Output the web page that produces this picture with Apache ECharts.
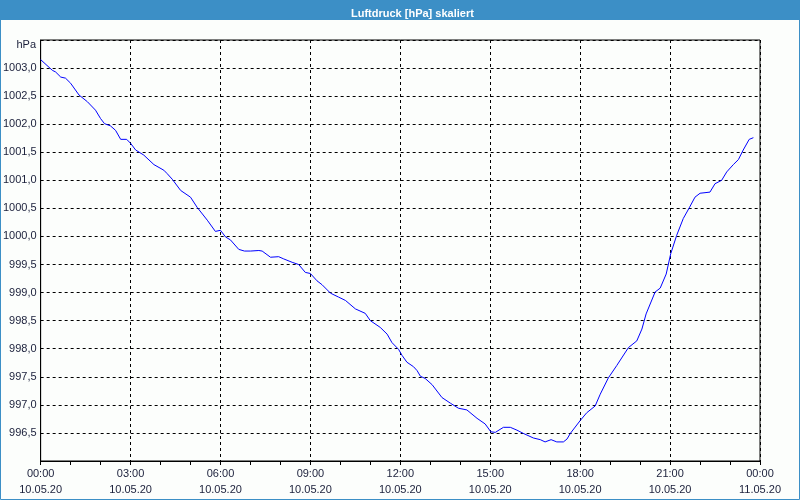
<!DOCTYPE html>
<html>
<head>
<meta charset="utf-8">
<script src="https://cdn.jsdelivr.net/npm/echarts@6/dist/echarts.min.js"></script>
<style>
html,body{margin:0;padding:0;background:#fcfefc;}
#c{width:800px;height:500px;}
</style>
</head>
<body>
<div id="c"></div>
<script>
const titleText = 'Luftdruck [hPa] skaliert';
const unitLabel = 'hPa';
const xTickTimes = ['00:00','03:00','06:00','09:00','12:00','15:00','18:00','21:00','00:00'];
const xTickDates = ['10.05.20','10.05.20','10.05.20','10.05.20','10.05.20','10.05.20','10.05.20','10.05.20','11.05.20'];
// hours since 10.05.20 00:00
const hours = [0.0,0.39,0.5,0.67,0.83,1.0,1.28,1.56,1.83,2.0,2.13,2.33,2.5,2.67,2.87,3.0,3.17,3.44,3.78,4.11,4.22,4.39,4.67,5.0,5.22,5.56,5.83,6.0,6.17,6.33,6.61,6.8,7.0,7.28,7.39,7.67,7.94,8.11,8.39,8.61,8.83,9.0,9.22,9.39,9.67,9.94,10.17,10.5,10.83,11.0,11.33,11.56,11.72,11.94,12.06,12.22,12.44,12.56,12.67,12.83,13.06,13.39,13.67,13.94,14.22,14.56,14.83,15.02,15.17,15.44,15.67,15.89,16.11,16.44,16.67,16.83,17.03,17.22,17.44,17.56,17.67,18.0,18.22,18.5,18.67,18.94,19.22,19.61,19.89,20.06,20.2,20.5,20.67,20.87,21.02,21.22,21.44,21.64,21.83,22.0,22.33,22.5,22.72,22.89,23.11,23.28,23.44,23.64,23.78];
const pressure = [1003.15,1002.96,1002.93,1002.84,1002.82,1002.73,1002.52,1002.40,1002.25,1002.10,1002.01,1001.97,1001.89,1001.73,1001.73,1001.66,1001.54,1001.45,1001.28,1001.18,1001.12,1001.02,1000.82,1000.70,1000.52,1000.29,1000.09,1000.11,999.99,999.94,999.77,999.74,999.74,999.75,999.74,999.63,999.64,999.60,999.54,999.50,999.36,999.34,999.21,999.14,998.99,998.92,998.86,998.71,998.63,998.50,998.38,998.26,998.11,997.99,997.88,997.76,997.68,997.61,997.51,997.47,997.36,997.13,997.03,996.94,996.91,996.76,996.66,996.52,996.51,996.60,996.60,996.55,996.49,996.41,996.38,996.34,996.38,996.34,996.34,996.39,996.49,996.72,996.86,996.98,997.19,997.48,997.70,998.02,998.14,998.35,998.62,999.01,999.08,999.33,999.69,1000.02,1000.32,1000.51,1000.70,1000.77,1000.79,1000.94,1001.00,1001.15,1001.28,1001.37,1001.54,1001.73,1001.76];

const FONT = '"Liberation Sans Narrow","Liberation Sans",sans-serif';
const TXT = '#1a1f3a';
const chart = echarts.init(document.getElementById('c'), null, {renderer:'canvas'});
chart.setOption({
  animation:false,
  backgroundColor:'#fcfefc',
  title:{
    text:titleText, left:346, top:3,
    textStyle:{color:'#ffffff', fontSize:11, fontWeight:'bold', fontFamily:FONT}
  },
  graphic:[
    {type:'rect', z:-1, shape:{x:0,y:0,width:800,height:20}, style:{fill:'#3c8fc6'}},
    {type:'rect', z:-1, shape:{x:0.5,y:0.5,width:799,height:499}, style:{fill:null, stroke:'#3c8fc6', lineWidth:1}},
    {type:'text', x:36, y:45, style:{text:unitLabel, align:'right', verticalAlign:'middle', fill:TXT, fontSize:11, fontFamily:FONT}}
  ],
  grid:{left:40, right:40, top:40, bottom:39, show:true, borderColor:'#000', borderWidth:1, backgroundColor:'#fcfefc'},
  xAxis:{
    type:'value', min:0, max:24, interval:3,
    axisLine:{show:true, lineStyle:{color:'#000', width:1}},
    axisTick:{show:true, length:4, lineStyle:{color:'#000'}},
    minorTick:{show:true, splitNumber:3, length:4, lineStyle:{color:'#000'}},
    splitLine:{show:true, lineStyle:{color:'#000', type:[3,3], width:1}},
    axisLabel:{
      margin:5, color:TXT, fontSize:11, fontFamily:FONT, lineHeight:16,
      formatter:(v)=>{const i=Math.round(v/3); return xTickTimes[i]+'\n'+xTickDates[i];}
    }
  },
  yAxis:{
    type:'value', min:996, max:1003.5, interval:0.5,
    axisLine:{show:true, lineStyle:{color:'#000', width:1}},
    axisTick:{show:false},
    splitLine:{show:true, lineStyle:{color:'#000', type:[3,3], width:1}},
    axisLabel:{
      margin:4, color:TXT, fontSize:11, fontFamily:FONT,
      showMinLabel:false, showMaxLabel:false,
      formatter:(v)=>v.toFixed(1).replace('.',',')
    }
  },
  series:[{
    type:'line', symbol:'none', smooth:false,
    lineStyle:{color:'#0000ff', width:1},
    data:hours.map((h,i)=>[h,pressure[i]])
  }]
});
</script>
</body>
</html>
